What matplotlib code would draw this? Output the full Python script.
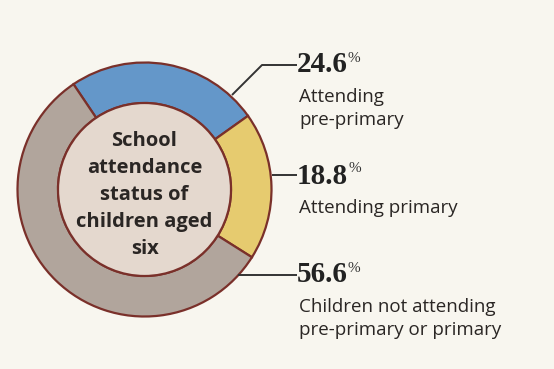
import matplotlib
matplotlib.use("Agg")
import matplotlib.pyplot as plt
from matplotlib.patches import Circle

# Data
categories = ["Attending\npre-primary", "Attending primary",
              "Children not attending\npre-primary or primary"]
values = [24.6, 18.8, 56.6]
value_labels = ["24.6", "18.8", "56.6"]
center_title = "School\nattendance\nstatus of\nchildren aged\nsix"

colors = ["#6497c9", "#e6cb6f", "#b1a59c"]
edge = "#7a302a"
bg = "#f8f6ef"

W, H = 554, 369
fig = plt.figure(figsize=(W / 100, H / 100), dpi=100, facecolor=bg)
ax = fig.add_axes([0, 0, 1, 1])
ax.set_facecolor(bg)

cx, cy = 144.5, H - 189.5
r_out, r_in = 127, 86.5

ax.pie(values, startangle=124, counterclock=False, colors=colors,
       center=(cx, cy), radius=r_out,
       wedgeprops=dict(width=r_out - r_in, edgecolor=edge, linewidth=1.6))
ax.add_patch(Circle((cx, cy), r_in, facecolor="#e4d8ce", edgecolor=edge,
                    linewidth=1.6, zorder=3))
ax.text(cx, H - 195, center_title, ha="center", va="center",
        fontsize=14.5, fontweight="bold", family="Open Sans",
        color="#2a2624", linespacing=1.48, zorder=4)

# leader lines (layout, pixel coords with y down)
leaders = [
    [(232, 95), (262, 65), (297, 65)],
    [(272, 175), (297, 175)],
    [(238, 275), (297, 275)],
]
label_y = [65, 176, 275]
for pts, ly, vl, cat in zip(leaders, label_y, value_labels, categories):
    xs = [p[0] for p in pts]
    ys = [H - p[1] for p in pts]
    ax.plot(xs, ys, color="#333333", lw=1.4, solid_capstyle="butt", zorder=5)
    t = ax.text(297, H - ly, vl, ha="left", va="center",
                fontsize=21, family="Liberation Serif", fontweight="bold",
                color="#222222")
    ax.annotate("%", xy=(1, 1), xycoords=t, xytext=(0, 0),
                textcoords="offset points", ha="left", va="top",
                fontsize=11, family="Liberation Serif", color="#333333")
    ax.text(299, H - ly - 23, cat, ha="left", va="top",
            fontsize=13.5, family="Open Sans", color="#2a2624",
            linespacing=1.38)

ax.set_xlim(0, W)
ax.set_ylim(0, H)
ax.set_aspect("equal")
ax.axis("off")

fig.savefig("out.png", dpi=100, facecolor=bg)
